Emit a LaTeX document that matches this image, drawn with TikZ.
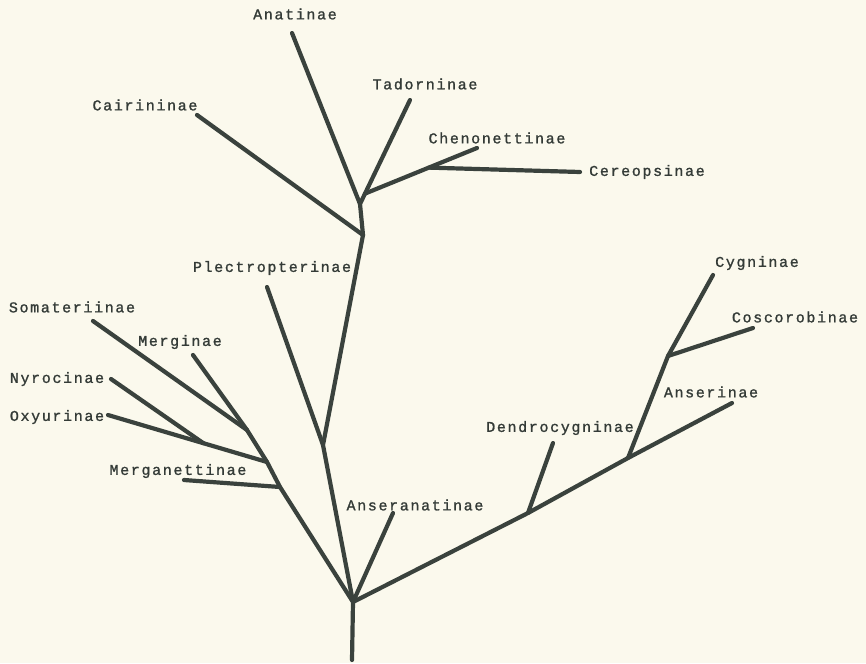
\documentclass[tikz,border=0pt]{standalone}
\usepackage{fontspec}
\newfontfamily\typewriter[LetterSpace=11,FakeBold=1.2]{Liberation Mono}
\usetikzlibrary{calc}
\definecolor{paper}{RGB}{251,249,237}
\definecolor{ink}{RGB}{58,66,61}
\tikzset{
  branch/.style = {draw=ink, line width=4.2pt, line cap=round, line join=round},
  taxon/.style  = {inner sep=0pt, text=ink!90!black, font=\typewriter\fontsize{15}{15}\selectfont}
}

\begin{document}
\begin{tikzpicture}[x=1pt,y=-1pt]
  \fill[paper] (0,0) rectangle (866,663);
  \useasboundingbox (0,0) rectangle (866,663);

  % forks
  \coordinate (base)   at (352,660);
  \coordinate (root)   at (353,602);
  \coordinate (mgtfk)  at (280,487);
  \coordinate (oxyfk)  at (267,462);
  \coordinate (somfk)  at (247,430);
  \coordinate (plefk)  at (323,445);
  \coordinate (caifk)  at (363,235);
  \coordinate (anafk)  at (360,204);
  \coordinate (dendfk) at (528,513);
  \coordinate (ansfk)  at (628,458);
  \coordinate (cygfk)  at (668,356);

  % tips
  \coordinate (som)  at (93,321);
  \coordinate (mer)  at (193,355);
  \coordinate (nyr)  at (111,379);
  \coordinate (oxy)  at (108,415);
  \coordinate (mgt)  at (184,480);
  \coordinate (ple)  at (267,287);
  \coordinate (cai)  at (197,115);
  \coordinate (ana)  at (292,33);
  \coordinate (tad)  at (410,100);
  \coordinate (che)  at (477,148);
  \coordinate (cer)  at (580,172);
  \coordinate (anr)  at (393,513);
  \coordinate (den)  at (553,443);
  \coordinate (ans)  at (732,403);
  \coordinate (cyg)  at (713,275);
  \coordinate (cos)  at (753,328);

  \coordinate (nyrfk) at ($(oxy)!0.6!(oxyfk)$);
  \coordinate (chefk) at ($(anafk)!0.1!(tad)$);
  \coordinate (cerfk) at ($(chefk)!0.57!(che)$);

  % labels
  \node[taxon] (somL) at (72,307)  {Somateriinae};
  \node[taxon] (merL) at (180,342) {Merginae};
  \node[taxon] (nyrL) at (57,379)  {Nyrocinae};
  \node[taxon] (oxyL) at (57,417)  {Oxyurinae};
  \node[taxon] (mgtL) at (178,471) {Merganettinae};
  \node[taxon] (pleL) at (272,268) {Plectropterinae};
  \node[taxon] (caiL) at (145,105) {Cairininae};
  \node[taxon] (anaL) at (295,14)  {Anatinae};
  \node[taxon] (tadL) at (425,84)  {Tadorninae};
  \node[taxon] (cheL) at (497,138) {Chenonettinae};
  \node[taxon] (cerL) at (647,172) {Cereopsinae};
  \node[taxon] (anrL) at (415,505) {Anseranatinae};
  \node[taxon] (denL) at (560,428) {Dendrocygninae};
  \node[taxon] (ansL) at (711,392) {Anserinae};
  \node[taxon] (cygL) at (757,263) {Cygninae};
  \node[taxon] (cosL) at (795,317) {Coscorobinae};

  % the tree
  \draw[branch] (base) -- (root) -- (mgtfk) -- (oxyfk) -- (somfk) -- (som);
  \draw[branch] (somfk) -- (mer);
  \draw[branch] (oxyfk) -- (oxy);
  \draw[branch] (nyrfk) -- (nyr);
  \draw[branch] (mgtfk) -- (mgt);
  \draw[branch] (root) -- (plefk) -- (caifk) -- (anafk) -- (ana);
  \draw[branch] (plefk) -- (ple);
  \draw[branch] (caifk) -- (cai);
  \draw[branch] (anafk) -- (tad);
  \draw[branch] (chefk) -- (che);
  \draw[branch] (cerfk) -- (cer);
  \draw[branch] (root) -- (anr);
  \draw[branch] (root) -- (dendfk) -- (ansfk) -- (ans);
  \draw[branch] (dendfk) -- (den);
  \draw[branch] (ansfk) -- (cygfk) -- (cyg);
  \draw[branch] (cygfk) -- (cos);
\end{tikzpicture}
\end{document}
